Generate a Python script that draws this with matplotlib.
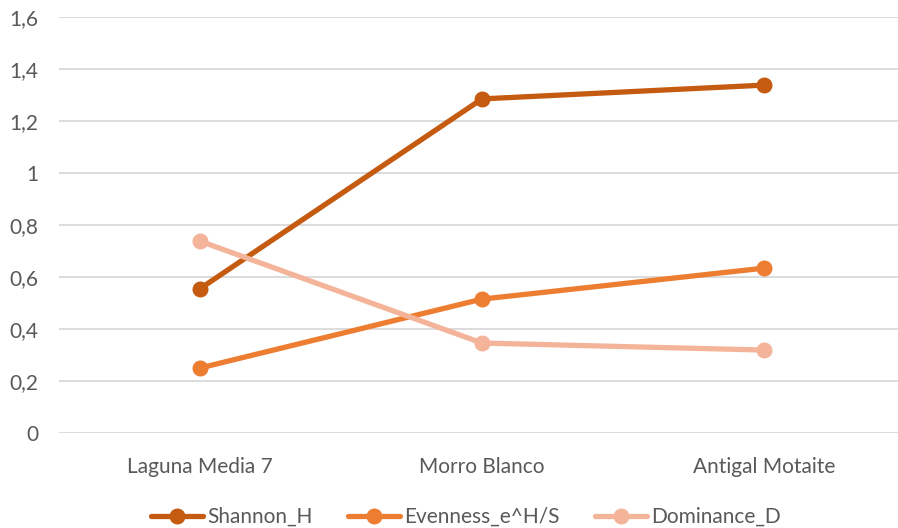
import numpy as np
import matplotlib.pyplot as plt
from matplotlib.ticker import FuncFormatter

plt.rcParams['font.family'] = ['Lato', 'DejaVu Sans']

sites = ['Laguna Media 7', 'Morro Blanco', 'Antigal Motaite']
shannon_h = [0.555, 1.285, 1.338]
evenness = [0.25, 0.515, 0.634]
dominance = [0.738, 0.346, 0.319]

series = [
    ('Shannon_H', shannon_h, '#C55A11'),
    ('Evenness_e^H/S', evenness, '#ED7D31'),
    ('Dominance_D', dominance, '#F4B49A'),
]

fig = plt.figure(figsize=(8.98, 5.28), dpi=100)
ax = fig.add_axes([59 / 898, 95 / 528, 846 / 898, 416 / 528])

x = np.arange(len(sites))
for name, vals, col in series:
    ax.plot(x, vals, color=col, lw=3.8, marker='o', ms=10.5, label=name,
            solid_capstyle='round', clip_on=False)

ax.set_xlim(-0.5, 2.5)
ax.set_ylim(0, 1.6)
ax.set_yticks(np.arange(0, 1.61, 0.2))
ax.yaxis.set_major_formatter(FuncFormatter(
    lambda v, p: '0' if abs(v) < 1e-9 else ('%g' % round(v, 1)).replace('.', ',')))
ax.set_xticks(x)
ax.set_xticklabels(sites)

ax.grid(axis='y', color='#D9D9D9', lw=1.3)
ax.set_axisbelow(True)
for s in ax.spines.values():
    s.set_visible(False)
ax.tick_params(length=0, labelsize=15, labelcolor='#595959')
ax.tick_params(axis='y', pad=15)
ax.tick_params(axis='x', pad=17)

fig.legend(loc='center', bbox_to_anchor=(466 / 898, 1 - 517 / 528), ncol=3,
           frameon=False, fontsize=15, labelcolor='#595959',
           handlelength=2.5, handletextpad=0.2, columnspacing=1.7)

fig.savefig('out.png', dpi=100)
